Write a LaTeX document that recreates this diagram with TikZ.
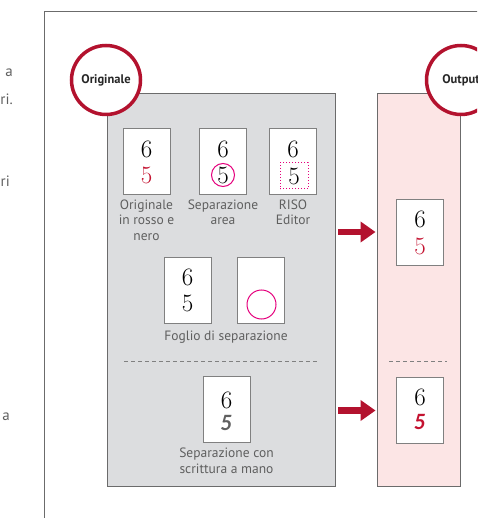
\documentclass[tikz,border=0pt]{standalone}
\usepackage{fontspec}
\setsansfont{PT Sans}
\newfontfamily\handfont{Lato}
\usetikzlibrary{positioning}
\usetikzlibrary{arrows.meta}
\definecolor{rosso}{HTML}{B3122E}
\definecolor{rossocifra}{HTML}{C41230}
\definecolor{fucsia}{HTML}{E5007D}
\definecolor{pannello}{HTML}{DCDDDF}
\definecolor{rosa}{HTML}{FCE5E5}
\definecolor{bordo}{HTML}{6B6B6B}
\definecolor{testo}{HTML}{5F5F5F}
\tikzset{
    panel/.style = {rectangle, draw=bordo, line width=0.9pt, inner sep=0pt},
    card/.style = {rectangle, draw=gray, line width=0.8pt, fill=white, minimum width=47pt, minimum height=66pt},
    cifra/.style = {inner sep=0pt, font=\fontsize{25}{25}\selectfont},
    mano/.style = {inner sep=0pt, font=\handfont\bfseries\itshape\fontsize{21}{21}\selectfont},
    caption/.style = {align=center, text=testo, font=\sffamily\fontsize{13.5}{15.5}\selectfont, inner sep=0pt},
    titolo/.style = {circle, draw=rosso, line width=3.5pt, fill=white, minimum size=69pt, inner sep=0pt, font=\sffamily\bfseries\fontsize{12.5}{14}\selectfont, text=black!85},
    separa/.style = {draw=gray, line width=0.7pt, dash pattern=on 4pt off 3pt},
    freccia/.style = {-{Triangle[length=15pt,width=20pt]}, line width=6.5pt, rosso},
    frammento/.style = {anchor=east, inner sep=0pt, text=testo, font=\sffamily\fontsize{15}{15}\selectfont}
}
\begin{document}
\begin{tikzpicture}[x=1pt,y=-1pt]
\clip (0,0) rectangle (477,518);
%
\node[frammento] at (13,73) (f1) {a};
\node[frammento] at (13,99) (f2) {ri.};
\node[frammento] at (10,181) (f3) {ri};
\node[frammento] at (10,417) (f4) {a};
\draw[bordo, line width=0.8pt] (44,530) |- (490,11);
%
\node[panel, fill=pannello, minimum width=228pt, minimum height=393pt] at (221,289.5) (orig) {};
\node[panel, fill=rosa, minimum width=83pt, minimum height=393pt] at (418.5,289.5) (out) {};
%
\node[titolo] at (106,80) (torig) {Originale};
\node[titolo] at (461,80) (tout) {Output};
%
\node[card, label={[caption, label distance=5pt]below:Originale\\in rosso e\\nero}] at (146.5,161) (c1) {};
\node[cifra] at (146.5,149) (c1a) {6};
\node[cifra, text=rossocifra] at (146.5,175) (c1b) {5};
\node[card, label={[caption, label distance=5pt]below:Separazione\\area}] at (223,161) (c2) {};
\node[cifra] at (223,149) (c2a) {6};
\node[cifra, circle, draw=fucsia, line width=1pt, minimum size=23pt] at (223,175) (c2b) {5};
\node[card, label={[caption, label distance=5pt]below:RISO\\Editor}] at (293,161) (c3) {};
\node[cifra] at (293,149) (c3a) {6};
\node[cifra, draw=fucsia, line width=1pt, dotted, minimum width=28pt, minimum height=26pt] at (294,176) (c3b) {5};
%
\node[card] at (187.5,290) (c4) {};
\node[cifra] at (187.5,277) (c4a) {6};
\node[cifra] at (187.5,303) (c4b) {5};
\node[card] at (261,290.5) (c5) {};
\node[circle, draw=fucsia, line width=1pt, minimum size=29pt] at (261.5,304.5) (c5b) {};
\node[caption] at (226,337) (foglio) {Foglio di separazione};
%
\draw[separa] (124,361) -- (318,361);
%
\node[card, label={[caption, label distance=5pt]below:Separazione con\\scrittura a mano}] at (226.5,409.5) (c6) {};
\node[cifra] at (226.5,400) (c6a) {6};
\node[mano, text=testo] at (226.5,423) (c6b) {5};
%
\node[card] at (420,232) (c7) {};
\node[cifra] at (420,219) (c7a) {6};
\node[cifra, text=rossocifra] at (420,246) (c7b) {5};
\draw[separa] (389,361) -- (447,361);
\node[card] at (420,410.5) (c8) {};
\node[cifra] at (420,397) (c8a) {6};
\node[mano, text=rossocifra] at (420,422) (c8b) {5};
%
\draw[freccia] ([xshift=3pt]orig.east |- c7) -- ([xshift=-1pt]out.west |- c7);
\draw[freccia] ([xshift=3pt]orig.east |- c8) -- ([xshift=-1pt]out.west |- c8);

\end{tikzpicture}
\end{document}
